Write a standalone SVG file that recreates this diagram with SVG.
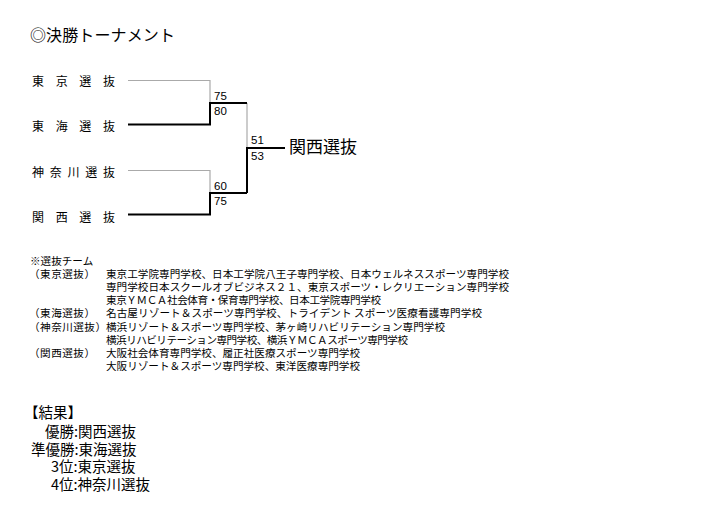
<svg xmlns="http://www.w3.org/2000/svg" width="708" height="514" viewBox="0 0 708 514">
<style>
text{font-family:"Noto Sans CJK JP","Noto Sans CJK SC",sans-serif;fill:#000;}
.title{font-size:16px;}
.team{font-size:12px;}
.win{font-size:17px;}
.score{font-family:"Liberation Sans",Arial,sans-serif;font-size:11.5px;}
.note{font-size:10.6px;}
.res{font-size:14.5px;}
.lose{fill:none;stroke:#aaaaaa;stroke-width:1.2;}
.won{fill:none;stroke:#000;stroke-width:2;}
</style>
<rect width="708" height="514" fill="#fff"/>
<text class="title" x="30" y="41" textLength="145" lengthAdjust="spacing">◎決勝トーナメント</text>

<g id="team-tokyo"><text class="team" x="32" y="86" textLength="83" lengthAdjust="spacing">東京選抜</text></g>
<g id="team-tokai"><text class="team" x="32" y="131" textLength="83" lengthAdjust="spacing">東海選抜</text></g>
<g id="team-kanagawa"><text class="team" x="32" y="177" textLength="83" lengthAdjust="spacing">神奈川選抜</text></g>
<g id="team-kansai"><text class="team" x="32" y="222" textLength="83" lengthAdjust="spacing">関西選抜</text></g>
<g id="winner"><text class="win" x="289" y="153">関西選抜</text></g>

<g id="connectors">
<path class="lose" d="M128 80.5H210V103"/>
<path class="lose" d="M128 170.5H210V193"/>
<path class="lose" d="M247 103V148"/>
<path class="won" d="M128 124.5H210V103H247"/>
<path class="won" d="M128 214.5H210V193H247"/>
<path class="won" d="M247 193V148H285"/>
</g>
<g id="scores">
<text class="score" x="214" y="99.5">75</text>
<text class="score" x="214" y="115">80</text>
<text class="score" x="251" y="144">51</text>
<text class="score" x="251" y="159.5">53</text>
<text class="score" x="214" y="189.5">60</text>
<text class="score" x="214" y="205">75</text>
</g>

<g id="notes">
<text class="note" x="30" y="265">※選抜チーム</text>
<text class="note" x="29" y="277.5" textLength="66" lengthAdjust="spacing">（東京選抜）</text>
<text class="note" x="106" y="277.5" textLength="403" lengthAdjust="spacing">東京工学院専門学校、日本工学院八王子専門学校、日本ウェルネススポーツ専門学校</text>
<text class="note" x="106" y="290.5" textLength="403" lengthAdjust="spacing">専門学校日本スクールオブビジネス２１、東京スポーツ・レクリエーション専門学校</text>
<text class="note" x="106" y="303.5" textLength="275" lengthAdjust="spacing">東京ＹＭＣＡ社会体育・保育専門学校、日本工学院専門学校</text>
<text class="note" x="29" y="317" textLength="66" lengthAdjust="spacing">（東海選抜）</text>
<text class="note" x="106" y="317" textLength="376" lengthAdjust="spacing">名古屋リゾート＆スポーツ専門学校、トライデント スポーツ医療看護専門学校</text>
<text class="note" x="29" y="330.5" textLength="77" lengthAdjust="spacing">（神奈川選抜）</text>
<text class="note" x="106" y="330.5" textLength="339" lengthAdjust="spacing">横浜リゾート＆スポーツ専門学校、茅ヶ崎リハビリテーション専門学校</text>
<text class="note" x="106" y="343.5" textLength="302" lengthAdjust="spacing">横浜リハビリテーション専門学校、横浜ＹＭＣＡスポーツ専門学校</text>
<text class="note" x="29" y="357" textLength="66" lengthAdjust="spacing">（関西選抜）</text>
<text class="note" x="106" y="357" textLength="254" lengthAdjust="spacing">大阪社会体育専門学校、履正社医療スポーツ専門学校</text>
<text class="note" x="106" y="370" textLength="254" lengthAdjust="spacing">大阪リゾート＆スポーツ専門学校、東洋医療専門学校</text>
</g>

<g id="results">
<text class="res" x="24" y="418">【結果】</text>
<text class="res" x="45" y="437">優勝:関西選抜</text>
<text class="res" x="31" y="455">準優勝:東海選抜</text>
<text class="res" x="51" y="472">3位:東京選抜</text>
<text class="res" x="51" y="490">4位:神奈川選抜</text>
</g>
</svg>
